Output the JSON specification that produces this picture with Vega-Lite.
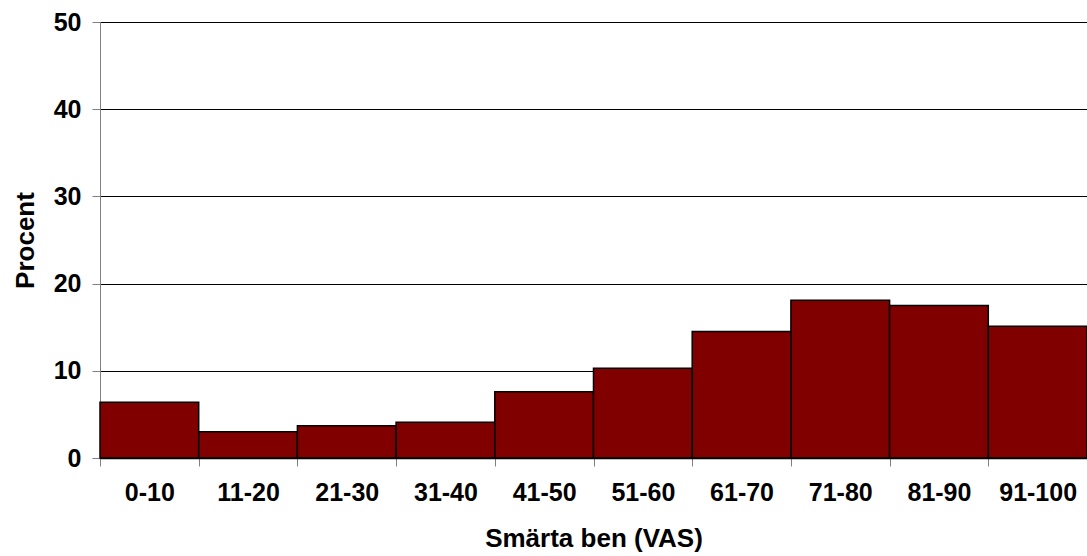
{
  "$schema": "https://vega.github.io/schema/vega-lite/v6.json",
  "width": 987,
  "height": 436,
  "autosize": "none",
  "padding": {"left": 100, "top": 22, "right": 0, "bottom": 98},
  "background": "white",
  "config": {"view": {"stroke": null}, "font": "Liberation Sans"},
  "data": {
    "values": [
      {"range": "0-10", "pct": 6.4},
      {"range": "11-20", "pct": 3.0},
      {"range": "21-30", "pct": 3.7},
      {"range": "31-40", "pct": 4.1},
      {"range": "41-50", "pct": 7.6},
      {"range": "51-60", "pct": 10.3},
      {"range": "61-70", "pct": 14.5},
      {"range": "71-80", "pct": 18.1},
      {"range": "81-90", "pct": 17.5},
      {"range": "91-100", "pct": 15.1}
    ]
  },
  "mark": {"type": "bar", "fill": "#800000", "stroke": "#000000", "strokeWidth": 1.5},
  "encoding": {
    "x": {
      "field": "range",
      "type": "ordinal",
      "sort": null,
      "scale": {"paddingInner": 0, "paddingOuter": 0},
      "axis": {
        "title": "Smärta ben (VAS)",
        "labelAngle": 0,
        "labelFont": "Liberation Sans",
        "labelFontWeight": "bold",
        "labelFontSize": 25,
        "labelColor": "#000000",
        "labelPadding": 14,
        "tickBand": "extent",
        "tickSize": 8,
        "tickColor": "#808080",
        "domainColor": "#000000",
        "domainWidth": 1.5,
        "titleFont": "Liberation Sans",
        "titleFontSize": 26,
        "titleFontWeight": "bold",
        "titleColor": "#000000",
        "titleBaseline": "alphabetic",
        "titleY": 88
      }
    },
    "y": {
      "field": "pct",
      "type": "quantitative",
      "scale": {"domain": [0, 50], "nice": false},
      "axis": {
        "values": [0, 10, 20, 30, 40, 50],
        "grid": true,
        "gridColor": "#000000",
        "gridWidth": 1,
        "domainColor": "#808080",
        "tickColor": "#808080",
        "tickSize": 8,
        "labelPadding": 11,
        "labelFont": "Liberation Sans",
        "labelFontWeight": "bold",
        "labelFontSize": 25,
        "labelColor": "#000000",
        "title": "Procent",
        "titleFont": "Liberation Sans",
        "titleFontSize": 26,
        "titleFontWeight": "bold",
        "titleColor": "#000000",
        "titleBaseline": "alphabetic",
        "titleX": -67
      }
    }
  }
}
